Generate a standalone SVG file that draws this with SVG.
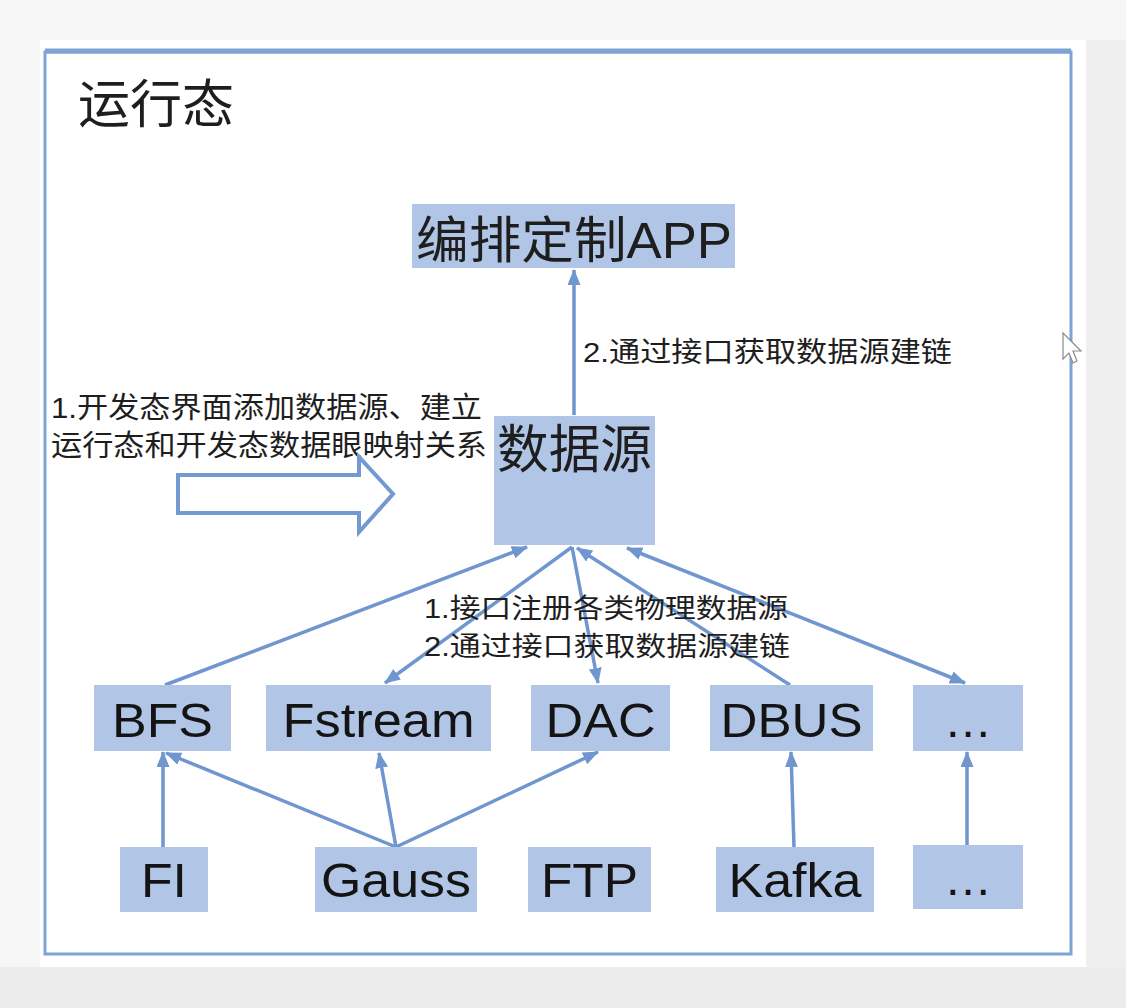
<svg xmlns="http://www.w3.org/2000/svg" width="1126" height="1008" viewBox="0 0 1126 1008">
<defs>
<style>
.box{fill:#b1c6e6;}
.cjk{font-family:"Liberation Sans","Noto Sans CJK SC",sans-serif;fill:#1e1e1e;}
.lat{font-family:"Liberation Sans",Arial,sans-serif;fill:#141414;font-size:48px;text-anchor:middle;}
.conn{stroke:#6f96cf;stroke-width:3.5;fill:none;}
</style>
<marker id="arr" markerUnits="userSpaceOnUse" markerWidth="16" markerHeight="13" refX="15" refY="6.5" orient="auto-start-reverse">
<path d="M0,0 L16,6.5 L0,13 Z" fill="#6f96cf"/>
</marker>
</defs>
<rect x="0" y="0" width="1126" height="1008" fill="#f6f6f6"/>
<rect x="0" y="967" width="1126" height="41" fill="#ececec"/>
<rect x="1086" y="40" width="40" height="927" fill="#efefef"/>
<rect x="40" y="40" width="1046" height="927" fill="#ffffff"/>
<g id="frame">
<rect x="45" y="52" width="1026" height="902" fill="none" stroke="#7fa3d6" stroke-width="3"/>
<line x1="45" y1="51" x2="1071" y2="51" stroke="#7fa3d6" stroke-width="5"/>
</g>
<text id="title" class="cjk" x="78" y="123" font-size="52">运行态</text>
<g id="connectors">
<line class="conn" x1="574" y1="415" x2="574" y2="270" marker-end="url(#arr)"/>
<line class="conn" x1="165" y1="685" x2="527" y2="547" marker-end="url(#arr)"/>
<line class="conn" x1="572" y1="547" x2="385" y2="683" marker-end="url(#arr)"/>
<line class="conn" x1="572" y1="547" x2="598" y2="683" marker-end="url(#arr)"/>
<line class="conn" x1="790" y1="685" x2="577" y2="548" marker-end="url(#arr)"/>
<line class="conn" x1="627" y1="548" x2="965" y2="683" marker-start="url(#arr)" marker-end="url(#arr)"/>
<line class="conn" x1="163" y1="847" x2="163" y2="752" marker-end="url(#arr)"/>
<line class="conn" x1="396" y1="847" x2="166" y2="753" marker-end="url(#arr)"/>
<line class="conn" x1="396" y1="847" x2="379" y2="753" marker-end="url(#arr)"/>
<line class="conn" x1="396" y1="847" x2="598" y2="752" marker-end="url(#arr)"/>
<line class="conn" x1="794" y1="847" x2="791" y2="752" marker-end="url(#arr)"/>
<line class="conn" x1="967" y1="845" x2="967" y2="752" marker-end="url(#arr)"/>
</g>
<g id="app">
<rect class="box" x="412" y="204" width="323" height="64"/>
<text class="cjk" x="416" y="258" font-size="50" textLength="316" lengthAdjust="spacingAndGlyphs">编排定制APP</text>
</g>
<text class="cjk" x="583" y="362" font-size="28" textLength="369" lengthAdjust="spacingAndGlyphs">2.通过接口获取数据源建链</text>
<g id="datasource">
<rect class="box" x="494" y="416" width="161" height="129"/>
<text class="cjk" x="497" y="468" font-size="52" textLength="155" lengthAdjust="spacingAndGlyphs">数据源</text>
</g>
<g id="devlabel">
<text class="cjk" x="51" y="418" font-size="29" textLength="431" lengthAdjust="spacingAndGlyphs">1.开发态界面添加数据源、建立</text>
<text class="cjk" x="51" y="456" font-size="29" textLength="436" lengthAdjust="spacingAndGlyphs">运行态和开发态数据眼映射关系</text>
<polygon points="178,475 359,475 359,457 393,494 359,532 359,513 178,513" fill="#ffffff" stroke="#7299d1" stroke-width="4"/>
</g>
<g id="midlabel">
<text class="cjk" x="424" y="618" font-size="27" textLength="364" lengthAdjust="spacingAndGlyphs">1.接口注册各类物理数据源</text>
<text class="cjk" x="424" y="656" font-size="27" textLength="366" lengthAdjust="spacingAndGlyphs">2.通过接口获取数据源建链</text>
</g>
<g id="bfs"><rect class="box" x="94" y="685" width="137" height="66"/><text class="lat" x="162.5" y="737" textLength="101" lengthAdjust="spacingAndGlyphs">BFS</text></g>
<g id="fstream"><rect class="box" x="266" y="685" width="225" height="66"/><text class="lat" x="378.5" y="737" textLength="192" lengthAdjust="spacingAndGlyphs">Fstream</text></g>
<g id="dac"><rect class="box" x="531" y="685" width="139" height="66"/><text class="lat" x="600.5" y="737" textLength="110" lengthAdjust="spacingAndGlyphs">DAC</text></g>
<g id="dbus"><rect class="box" x="710" y="685" width="163" height="66"/><text class="lat" x="791.5" y="737" textLength="142" lengthAdjust="spacingAndGlyphs">DBUS</text></g>
<g id="more1"><rect class="box" x="913" y="685" width="110" height="66"/><text class="lat" x="968" y="737">…</text></g>
<g id="fi"><rect class="box" x="120" y="847" width="88" height="65"/><text class="lat" x="164" y="897" textLength="46" lengthAdjust="spacingAndGlyphs">FI</text></g>
<g id="gauss"><rect class="box" x="315" y="847" width="162" height="65"/><text class="lat" x="396" y="897" textLength="150" lengthAdjust="spacingAndGlyphs">Gauss</text></g>
<g id="ftp"><rect class="box" x="528" y="847" width="123" height="65"/><text class="lat" x="589.5" y="897" textLength="97" lengthAdjust="spacingAndGlyphs">FTP</text></g>
<g id="kafka"><rect class="box" x="716" y="847" width="158" height="65"/><text class="lat" x="795" y="897" textLength="133" lengthAdjust="spacingAndGlyphs">Kafka</text></g>
<g id="more2"><rect class="box" x="913" y="845" width="110" height="64"/><text class="lat" x="968" y="895">…</text></g>
<path d="M1063,333 L1063,359 L1069,353 L1073,363 L1077,361 L1073,351 L1081,351 Z" fill="#ffffff" stroke="#8a8a8a" stroke-width="1.2"/>
</svg>
